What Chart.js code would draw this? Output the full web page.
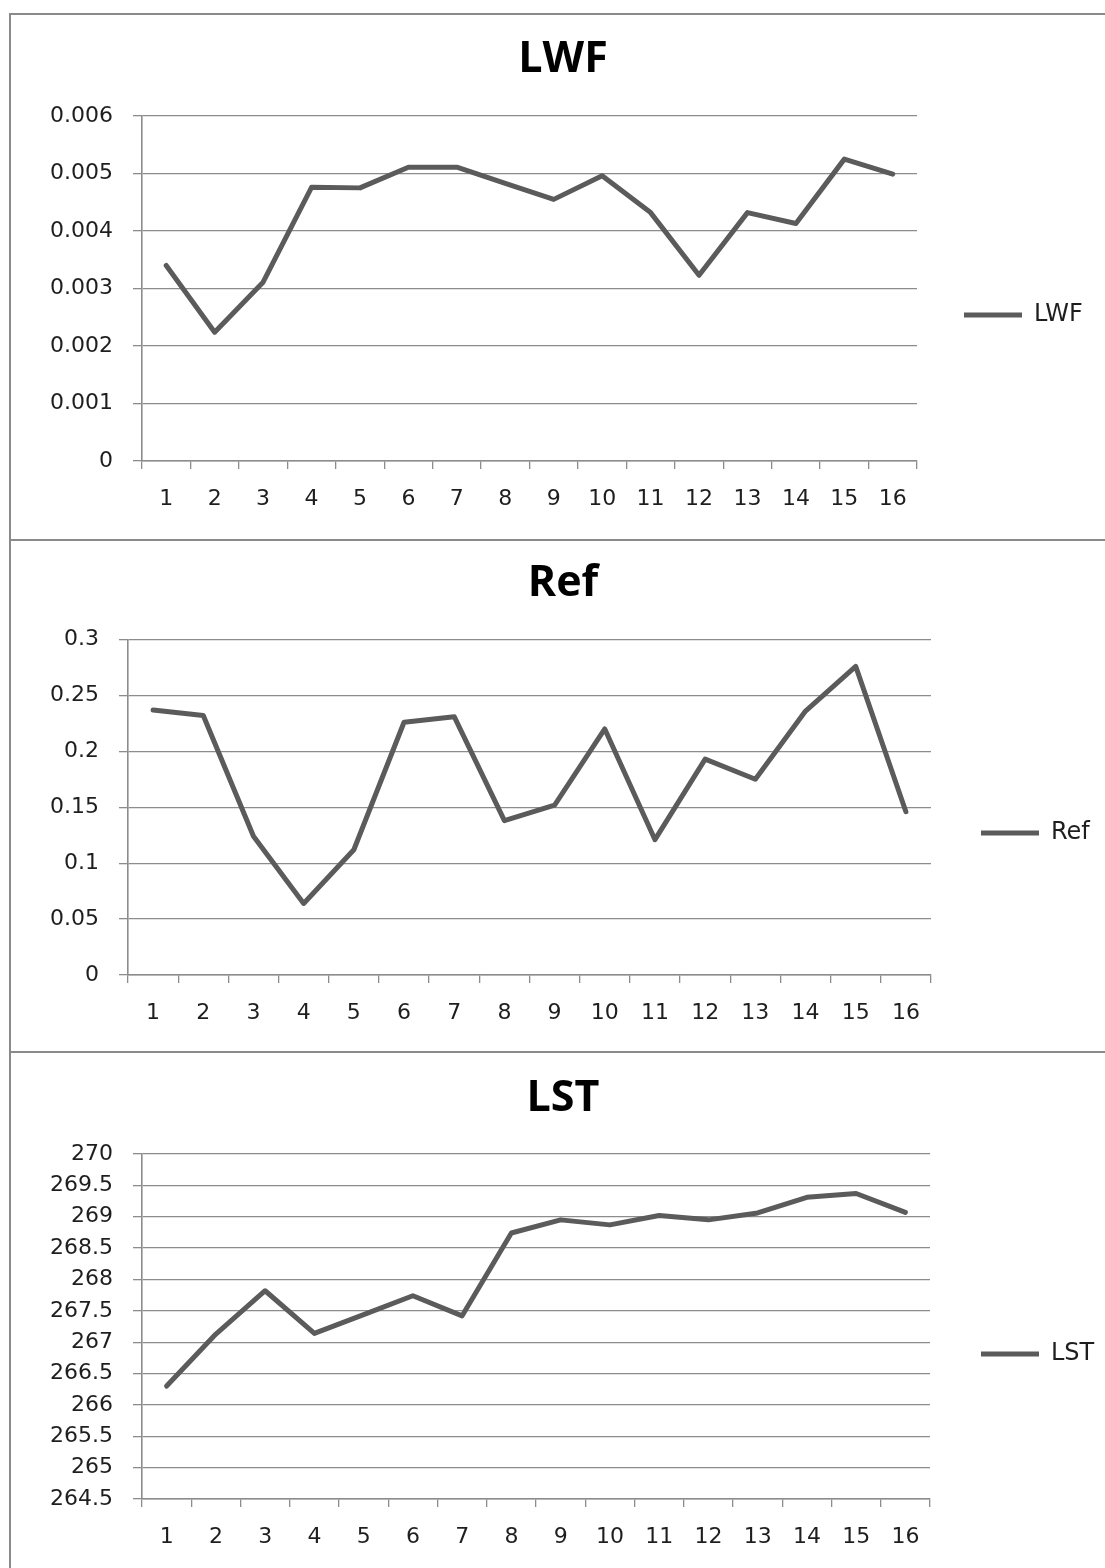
<!DOCTYPE html>
<html>
<head>
<meta charset="utf-8">
<title>LWF / Ref / LST</title>
<script src="https://cdn.jsdelivr.net/npm/chart.js@4.4.1/dist/chart.umd.min.js"></script>
<style>
  html, body { margin: 0; padding: 0; background: #ffffff; }
  body { width: 1105px; height: 1568px; overflow: hidden; position: relative; }
  .frame { position: absolute; border: 2px solid #8a8a8a; box-sizing: border-box; }
  canvas { position: absolute; left: 0; }
</style>
</head>
<body>
<div class="frame" style="left:9px; top:13px; width:1160px; height:528px;"></div>
<div class="frame" style="left:9px; top:539px; width:1160px; height:514px;"></div>
<div class="frame" style="left:9px; top:1051px; width:1160px; height:560px;"></div>

<canvas id="chartLWF" width="1126" height="540" style="top:0px;"></canvas>
<canvas id="chartRef" width="1126" height="512" style="top:540px;"></canvas>
<canvas id="chartLST" width="1126" height="516" style="top:1052px;"></canvas>

<script>
// Categories shared by the three panels
const categories = ['1', '2', '3', '4', '5', '6', '7', '8', '9', '10', '11', '12', '13', '14', '15', '16'];

// Series values
const lwfValues = [0.00340, 0.00224, 0.00311, 0.00476, 0.00475, 0.00511, 0.00511, 0.00483,
                   0.00455, 0.00496, 0.00432, 0.00323, 0.00432, 0.00413, 0.00525, 0.00499];
const refValues = [0.237, 0.232, 0.124, 0.064, 0.112, 0.226, 0.231, 0.138,
                   0.152, 0.220, 0.121, 0.193, 0.175, 0.236, 0.276, 0.146];
const lstValues = [266.30, 267.13, 267.82, 267.14, 267.44, 267.74, 267.42, 268.74,
                   268.95, 268.87, 269.02, 268.95, 269.06, 269.31, 269.37, 269.07];

// Value-axis tick labels (bottom to top)
const lwfTicks = ['0', '0.001', '0.002', '0.003', '0.004', '0.005', '0.006'];
const refTicks = ['0', '0.05', '0.1', '0.15', '0.2', '0.25', '0.3'];
const lstTicks = ['264.5', '265', '265.5', '266', '266.5', '267', '267.5', '268', '268.5', '269', '269.5', '270'];

// Styling
const LINE_COLOR = '#5b5b5b';
const GRID_COLOR = '#8c8c8c';
const TEXT_COLOR = '#1e1e1e';
const TICK_FONT = { family: '"DejaVu Sans", Verdana, sans-serif', size: 22, lineHeight: 1.2 };
const LEGEND_FONT = { family: '"DejaVu Sans", Verdana, sans-serif', size: 24, lineHeight: 1.2 };
const TITLE_FONT = { family: '"Open Sans", sans-serif', size: 43, weight: 'bold', lineHeight: 1.2 };
const CANVAS_W = 1126;
const TITLE_CENTER_X = 563;
const LEGEND_LINE_W = 58;
const LEGEND_SPACER_FONT = 10;

// Panel layout (page coordinates)
const panels = [
  { canvas: 'chartLWF', title: 'LWF', values: lwfValues, ticks: lwfTicks, min: 0, max: 0.006, step: 0.001,
    top: 0, height: 540, area: { left: 142, right: 917, top: 116, bottom: 461 },
    titleMid: 60, legendGap: 47, legendY: 314 },
  { canvas: 'chartRef', title: 'Ref', values: refValues, ticks: refTicks, min: 0, max: 0.3, step: 0.05,
    top: 540, height: 512, area: { left: 128, right: 931, top: 639.5, bottom: 975 },
    titleMid: 584, legendGap: 50, legendY: 832 },
  { canvas: 'chartLST', title: 'LST', values: lstValues, ticks: lstTicks, min: 264.5, max: 270, step: 0.5,
    top: 1052, height: 516, area: { left: 142, right: 930, top: 1154, bottom: 1499 },
    titleMid: 1099, legendGap: 51, legendY: 1353 }
];

const measureCtx = document.createElement('canvas').getContext('2d');
function textWidth(str, font) {
  measureCtx.font = (font.weight ? font.weight + ' ' : '') + font.size + 'px ' + font.family;
  return measureCtx.measureText(str).width;
}

function tickLabeller(list) {
  return function (value) {
    const hit = list.find(t => Math.abs(Number(t) - value) < 1e-7 * Math.max(1, Math.abs(value)));
    return hit === undefined ? '' : hit;
  };
}

panels.forEach(p => {
  const titleLH = TITLE_FONT.size * TITLE_FONT.lineHeight;
  const titlePadTop = (p.titleMid - p.top) - titleLH / 2;
  const titlePadBottom = (p.area.top - p.top) - titlePadTop - titleLH;
  const xAxisHeight = p.top + p.height - p.area.bottom;

  // width Chart.js gives the right-hand legend box
  const legendW = p.legendGap + LEGEND_LINE_W + LEGEND_FONT.size / 2 + textWidth(p.title, LEGEND_FONT) + 10;
  const outerRight = p.area.right + legendW;
  const padLeft = 2 * TITLE_CENTER_X - outerRight;
  const padRight = CANVAS_W - outerRight;
  const yAxisWidth = p.area.left - padLeft;

  // the legend spans the canvas height; an empty legend title pushes its entry down
  const legendShift = 2 * (p.legendY - (p.top + p.height / 2)) + 2;
  const spacerLH = LEGEND_SPACER_FONT * 1.2;

  new Chart(document.getElementById(p.canvas), {
    type: 'line',
    data: {
      labels: categories,
      datasets: [{
        label: p.title,
        data: p.values,
        borderColor: LINE_COLOR,
        backgroundColor: LINE_COLOR,
        borderWidth: 5,
        borderJoinStyle: 'round',
        borderCapStyle: 'round',
        pointRadius: 0,
        pointHoverRadius: 0,
        tension: 0,
        fill: false
      }]
    },
    options: {
      responsive: false,
      animation: false,
      devicePixelRatio: 1,
      events: [],
      layout: { padding: { left: padLeft, right: padRight, top: 0, bottom: 0 } },
      plugins: {
        tooltip: { enabled: false },
        title: {
          display: true,
          text: p.title,
          color: '#000000',
          font: TITLE_FONT,
          padding: { top: titlePadTop, bottom: titlePadBottom }
        },
        legend: {
          display: true,
          position: 'right',
          align: 'center',
          fullSize: true,
          title: {
            display: true,
            text: ' ',
            font: { size: LEGEND_SPACER_FONT, lineHeight: 1.2 },
            padding: { top: 0, bottom: Math.max(0, legendShift - spacerLH) }
          },
          labels: {
            usePointStyle: true,
            pointStyle: 'line',
            pointStyleWidth: LEGEND_LINE_W,
            padding: p.legendGap,
            color: TEXT_COLOR,
            font: LEGEND_FONT
          }
        }
      },
      scales: {
        x: {
          type: 'category',
          offset: true,
          grid: {
            display: true,
            offset: true,
            drawOnChartArea: false,
            drawTicks: true,
            tickLength: 8,
            color: GRID_COLOR,
            lineWidth: 1.3
          },
          border: { display: true, color: GRID_COLOR, width: 1.6 },
          ticks: { padding: 17.5, color: TEXT_COLOR, font: TICK_FONT, maxRotation: 0, autoSkip: false },
          afterFit: scale => { scale.height = xAxisHeight; }
        },
        y: {
          min: p.min,
          max: p.max,
          grid: { color: GRID_COLOR, lineWidth: 1.3, drawTicks: true, tickLength: 9 },
          border: { display: true, color: GRID_COLOR, width: 1.6 },
          ticks: { stepSize: p.step, padding: 20, color: TEXT_COLOR, font: TICK_FONT, callback: tickLabeller(p.ticks) },
          afterFit: scale => { scale.width = yAxisWidth; }
        }
      }
    }
  });
});
</script>
</body>
</html>
